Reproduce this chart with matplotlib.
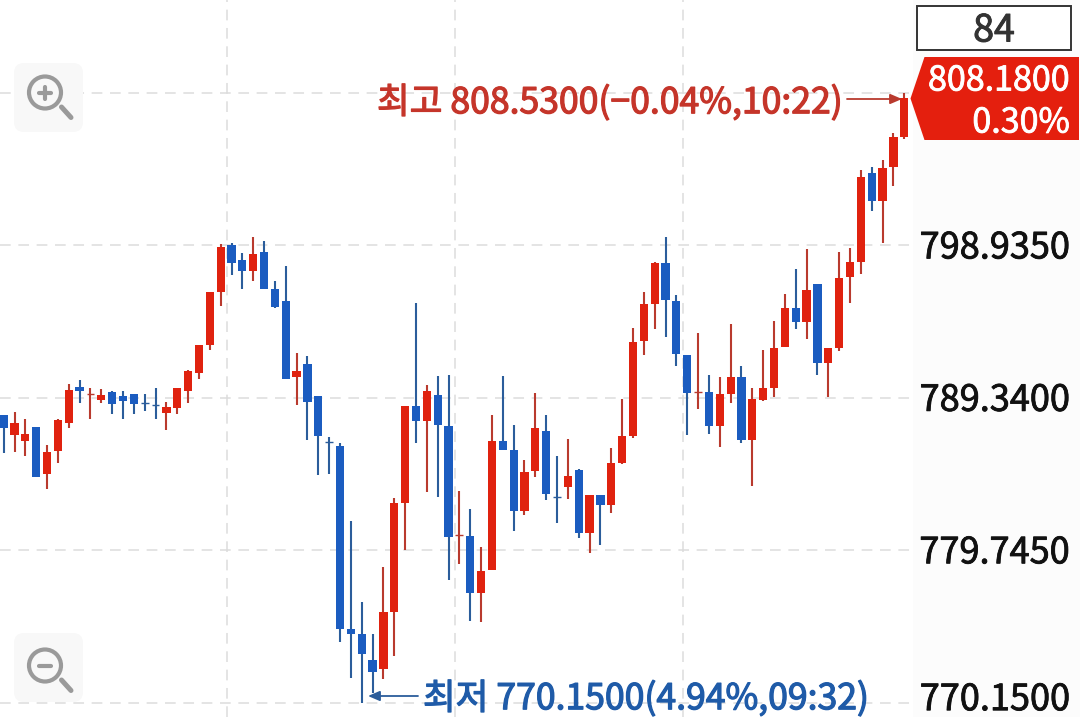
import matplotlib
matplotlib.use("Agg")
import matplotlib.pyplot as plt
import matplotlib.patheffects as pe
from matplotlib.patches import Circle, FancyBboxPatch, Polygon, Rectangle

# Chart data (price per candle, 84 candles)
opens = [788.25, 786.99, 786.59, 787.47, 784.55, 786.00, 787.74, 790.01, 789.50, 789.17,
         789.69, 789.46, 789.57, 789.04, 788.94, 788.39, 788.69, 789.76, 790.89, 792.65,
         796.01, 798.97, 797.98, 797.33, 798.53, 796.16, 795.40, 790.62, 791.46, 789.47,
         786.66, 786.32, 774.78, 774.44, 772.83, 772.28, 775.87, 782.73, 788.80, 787.89,
         789.49, 787.56, 780.66, 780.61, 777.05, 778.47, 786.61, 786.03, 782.19, 784.71,
         787.27, 783.19, 783.72, 784.77, 780.82, 783.24, 782.61, 785.21, 786.91, 792.89,
         795.26, 797.80, 795.45, 792.05, 789.62, 789.72, 787.58, 789.59, 790.64, 786.70,
         789.22, 789.97, 792.51, 794.97, 794.13, 796.50, 791.53, 792.49, 796.94, 797.90,
         803.51, 801.72, 803.86, 805.77]
highs = [788.25, 788.45, 787.97, 787.47, 786.36, 787.99, 790.20, 790.47, 789.97, 789.88,
         789.73, 789.73, 789.57, 789.57, 789.94, 789.04, 789.97, 791.08, 792.65, 795.97,
         798.99, 799.05, 798.42, 799.47, 799.22, 796.66, 797.60, 792.17, 791.96, 789.47,
         786.89, 786.51, 781.58, 776.50, 774.47, 778.70, 783.03, 788.80, 795.28, 790.14,
         790.71, 790.77, 783.47, 782.36, 779.92, 788.23, 790.73, 787.64, 785.40, 789.66,
         788.27, 785.67, 786.74, 784.85, 783.24, 783.24, 786.15, 789.24, 793.71, 795.97,
         797.90, 799.48, 795.81, 792.05, 793.43, 790.77, 790.64, 793.96, 791.36, 789.97,
         792.32, 794.17, 795.85, 797.42, 798.68, 796.50, 792.47, 798.49, 798.79, 803.67,
         803.86, 804.30, 805.98, 808.53]
lows = [785.87, 785.89, 785.66, 784.32, 783.61, 785.20, 787.41, 789.00, 788.01, 789.00,
        788.33, 788.01, 788.33, 788.52, 788.01, 787.28, 788.33, 789.00, 790.51, 792.34,
        795.13, 797.06, 796.20, 796.70, 796.16, 794.96, 790.51, 788.90, 786.69, 784.45,
        784.52, 773.98, 771.67, 770.15, 770.73, 771.63, 773.10, 779.75, 786.51, 783.38,
        783.07, 777.86, 778.87, 775.28, 775.20, 778.47, 786.03, 780.97, 781.98, 784.37,
        782.90, 781.47, 782.98, 780.49, 779.54, 780.07, 782.10, 785.15, 786.83, 792.01,
        793.64, 793.14, 791.32, 786.99, 788.65, 787.03, 786.26, 789.03, 786.47, 783.80,
        789.11, 789.41, 792.51, 793.67, 793.02, 790.75, 789.36, 792.30, 795.32, 797.15,
        801.11, 799.10, 802.67, 805.65]
closes = [787.41, 787.72, 787.07, 784.32, 785.94, 787.93, 789.84, 789.76, 789.57, 789.48,
          788.96, 789.11, 788.96, 788.98, 788.90, 788.75, 789.94, 791.04, 792.65, 795.97,
          798.84, 797.81, 797.33, 798.36, 796.16, 795.06, 790.51, 791.01, 789.08, 786.95,
          786.57, 774.80, 774.49, 773.21, 772.09, 775.83, 782.71, 788.80, 787.89, 789.76,
          787.60, 780.59, 780.72, 777.05, 778.43, 786.61, 786.03, 782.23, 784.68, 787.45,
          783.26, 783.11, 784.39, 780.80, 783.24, 782.59, 785.23, 786.91, 792.85, 795.24,
          797.80, 795.47, 792.09, 789.62, 789.70, 787.56, 789.57, 790.64, 786.68, 789.24,
          789.93, 792.47, 794.97, 794.13, 796.10, 791.53, 792.47, 796.90, 797.88, 803.23,
          801.72, 803.82, 805.77, 808.18]

price_ticks = [798.935, 789.34, 779.745, 770.15]
high_mark = 808.53
time_grid = [20.6, 41.6, 62.6]

high_label = "최고 808.5300(−0.04%,10:22)"
low_label = "최저 770.1500(4.94%,09:32)"
count_label = "84"
last_price_label = "808.1800"
last_change_label = "0.30%"

# Colours
RED_BODY = "#e0220f"
RED_WICK = "#b93a2e"
BLUE_BODY = "#1b5cc0"
BLUE_WICK = "#2b5d9b"
RED_TEXT = "#c5352a"
BLUE_TEXT = "#1f5ba8"
GRID = "#dcdcdc"
ICON = "#9a9a9a"

plt.rcParams['font.family'] = ['Noto Sans CJK KR', 'DejaVu Sans']


def thick(color, width=0.9):
    # only regular weight renders here, a thin stroke gets it close to medium
    return [pe.withStroke(linewidth=width, foreground=color)]


fig = plt.figure(figsize=(10.8, 7.17), dpi=100, facecolor="white")

# Candle axes fill the picture, scales line up with the gridlines of the reference
ax = fig.add_axes([0, 0, 1, 1])
ax.set_xlim(-0.338, 99.2)
ax.set_ylim(769.24, 814.37)
ax.axis("off")

# right hand price strip is a touch darker than the plot
ax.add_patch(Rectangle((0.845, 0), 0.155, 1, transform=ax.transAxes,
                       color="#fcfcfc", lw=0, zorder=0))

for p in price_ticks + [high_mark]:
    ax.axhline(p, xmin=0, xmax=0.845, color=GRID, lw=1.1,
               ls=(0, (7, 5)), zorder=1)
for t in time_grid:
    ax.axvline(t, color=GRID, lw=1.1, ls=(0, (7, 5)), zorder=1)

for i in range(len(opens)):
    up = closes[i] >= opens[i]
    wick = RED_WICK if up else BLUE_WICK
    body = RED_BODY if up else BLUE_BODY
    ax.vlines(i, lows[i], highs[i], color=wick, lw=1.5, zorder=2)
    height = abs(closes[i] - opens[i])
    if height < 0.12:
        # doji, just a thin dash across the wick
        ax.hlines(closes[i], i - 0.36, i + 0.36, color=wick, lw=1.0, zorder=3)
    else:
        ax.bar(i, height, bottom=min(opens[i], closes[i]), width=0.76,
               color=body, lw=0, zorder=3)

for p in price_ticks:
    # bottom label sits against the picture edge, nudge it up a little
    nudge = 0.15 if p == price_ticks[-1] else -0.2
    t = ax.text(1070 / 1080, p + nudge, f"{p:.4f}", transform=ax.get_yaxis_transform(),
                ha="right", va="center", fontsize=26, color="#111111", zorder=6)
    t.set_path_effects(thick("#111111", 0.6))

# Overlay in picture pixels for the app chrome
ui = fig.add_axes([0, 0, 1, 1], facecolor="none")
ui.set_xlim(0, 1080)
ui.set_ylim(717, 0)
ui.axis("off")

# count box
ui.add_patch(Rectangle((917, 6), 154, 44, fc="white", ec="#333333", lw=1.4))
ui.text(994, 31, count_label, ha="center", va="center", fontsize=27,
        color="#333333", path_effects=thick("#333333", 0.7))

# last price tag
ui.add_patch(Polygon([(924.5, 57), (1079, 57), (1079, 140), (924.5, 140), (910.5, 98.5)],
                     closed=True, fc="#e41f0e", ec="none", zorder=5))
ui.text(1070, 81, last_price_label, ha="right", va="center", fontsize=24.5,
        color="white", zorder=6, path_effects=thick("white", 0.6))
ui.text(1070, 123, last_change_label, ha="right", va="center", fontsize=24.5,
        color="white", zorder=6, path_effects=thick("white", 0.6))

# high / low labels with arrows
ui.text(377, 103, high_label, ha="left", va="center", fontsize=25.6,
        color=RED_TEXT, path_effects=thick(RED_TEXT))
ui.annotate("", xy=(902, 99), xytext=(847, 99),
            arrowprops=dict(arrowstyle="-|>,head_length=0.7,head_width=0.3",
                            color="#b93a2e", lw=1.3, shrinkA=0, shrinkB=0))
ui.text(423, 699, low_label, ha="left", va="center", fontsize=25.6,
        color=BLUE_TEXT, path_effects=thick(BLUE_TEXT))
ui.annotate("", xy=(368, 696), xytext=(418, 696),
            arrowprops=dict(arrowstyle="-|>,head_length=0.7,head_width=0.3",
                            color="#2b5d9b", lw=1.3, shrinkA=0, shrinkB=0))


def zoom_button(top, cy, plus):
    ui.add_patch(FancyBboxPatch((20, top + 6), 57, 57, boxstyle="round,pad=6,rounding_size=10",
                                fc="#f8f8f8", ec="none", zorder=4))
    ui.add_patch(Circle((45, cy), 16, fc="none", ec=ICON, lw=3, zorder=5))
    ui.plot([61.5, 71], [cy + 14.5, cy + 25], color=ICON, lw=3.6,
            solid_capstyle="round", zorder=5)
    ui.plot([39, 51], [cy, cy], color=ICON, lw=3, solid_capstyle="round", zorder=5)
    if plus:
        ui.plot([45, 45], [cy - 6, cy + 6], color=ICON, lw=3,
                solid_capstyle="round", zorder=5)


zoom_button(63, 92.5, True)
zoom_button(633, 665.5, False)

ui.set_xlim(0, 1080)
ui.set_ylim(717, 0)

fig.savefig("out.png", dpi=100)
